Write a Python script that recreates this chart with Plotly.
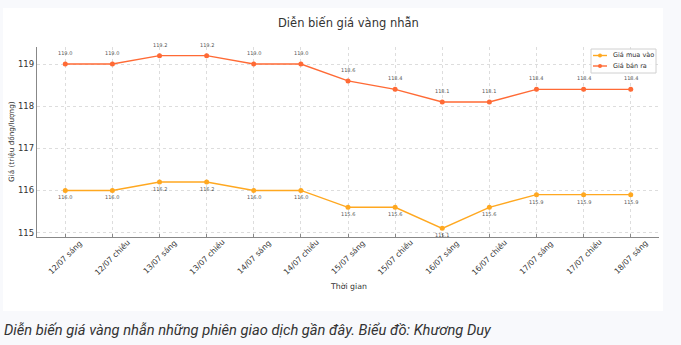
import plotly.graph_objects as go

# Trading sessions and ring-gold prices (million VND per tael)
sessions = ["12/07 sáng", "12/07 chiều", "13/07 sáng", "13/07 chiều",
            "14/07 sáng", "14/07 chiều", "15/07 sáng", "15/07 chiều",
            "16/07 sáng", "16/07 chiều", "17/07 sáng", "17/07 chiều",
            "18/07 sáng"]
buy_prices = [116.0, 116.0, 116.2, 116.2, 116.0, 116.0, 115.6, 115.6,
              115.1, 115.6, 115.9, 115.9, 115.9]
sell_prices = [119.0, 119.0, 119.2, 119.2, 119.0, 119.0, 118.6, 118.4,
               118.1, 118.1, 118.4, 118.4, 118.4]
y_ticks = [115, 116, 117, 118, 119]
series_names = ["Giá mua vào", "Giá bán ra"]

W, H = 681, 345
BUY_COLOR = "#FFA820"
SELL_COLOR = "#FF6A35"
PAGE_BG = "#F8F9FC"
TEXT = "#333333"
FONT = "DejaVu Sans"

# Plot-area placement in pixels
ax_left, ax_right, ax_top, ax_bottom = 37, 659, 47, 237


def px_x(v):
    return v / W


def px_y(v):
    return 1 - v / H


xi = list(range(len(sessions)))

fig = go.Figure()
for name, vals, color in [(series_names[0], buy_prices, BUY_COLOR),
                          (series_names[1], sell_prices, SELL_COLOR)]:
    fig.add_trace(go.Scatter(
        x=xi, y=vals, name=name, mode="lines+markers",
        line=dict(color=color, width=1.4),
        marker=dict(color=color, size=5),
        showlegend=False,
    ))

annotations = []
# value labels: above the selling line, below the buying line
for i, v in enumerate(sell_prices):
    annotations.append(dict(x=i, y=v, xref="x", yref="y", text=f"{v:.1f}",
                            showarrow=False, yshift=11,
                            font=dict(size=5, color="#555555", family=FONT)))
for i, v in enumerate(buy_prices):
    annotations.append(dict(x=i, y=v, xref="x", yref="y", text=f"{v:.1f}",
                            showarrow=False, yshift=-7,
                            font=dict(size=5, color="#555555", family=FONT)))

# rotated session labels centred under each tick
for i, s in enumerate(sessions):
    annotations.append(dict(x=i, y=px_y(257), xref="x", yref="paper", text=s,
                            showarrow=False, textangle=-45,
                            xanchor="center", yanchor="middle",
                            font=dict(size=7.8, color=TEXT, family=FONT)))

# chart title, axis titles and caption
annotations += [
    dict(text="Diễn biến giá vàng nhẫn", x=px_x(348), y=px_y(23), xref="paper", yref="paper",
         showarrow=False, xanchor="center", yanchor="middle",
         font=dict(size=11.5, color=TEXT, family=FONT)),
    dict(text="Thời gian", x=px_x(348), y=px_y(286), xref="paper", yref="paper",
         showarrow=False, xanchor="center", yanchor="middle",
         font=dict(size=7.8, color=TEXT, family=FONT)),
    dict(text="Giá (triệu đồng/lượng)", x=px_x(12), y=px_y(142), xref="paper", yref="paper",
         showarrow=False, xanchor="center", yanchor="middle", textangle=-90,
         font=dict(size=7.3, color=TEXT, family=FONT)),
    dict(text="<i>Diễn biến giá vàng nhẫn những phiên giao dịch gần đây. Biểu đồ: Khương Duy</i>",
         x=px_x(2), y=px_y(330), xref="paper", yref="paper",
         showarrow=False, xanchor="left", yanchor="middle",
         font=dict(size=14.7, color=TEXT, family="Roboto")),
]

shapes = [
    # white card behind the chart
    dict(type="rect", xref="paper", yref="paper", layer="below",
         x0=px_x(3), x1=px_x(663), y0=px_y(311), y1=px_y(8),
         fillcolor="white", line=dict(width=0)),
    # legend frame
    dict(type="rect", xref="paper", yref="paper",
         x0=px_x(591), x1=px_x(656), y0=px_y(73), y1=px_y(49),
         fillcolor="rgba(255,255,255,0.85)", line=dict(color="#D0D0D0", width=1)),
]

# legend entries: sample line, marker and label
for row, (name, color) in enumerate(zip(series_names, [BUY_COLOR, SELL_COLOR])):
    yc = 55.5 + row * 10.5
    shapes.append(dict(type="line", xref="paper", yref="paper",
                       x0=px_x(593), x1=px_x(607), y0=px_y(yc), y1=px_y(yc),
                       line=dict(color=color, width=1.4)))
    shapes.append(dict(type="circle", xref="paper", yref="paper",
                       x0=px_x(598), x1=px_x(602), y0=px_y(yc + 2), y1=px_y(yc - 2),
                       fillcolor=color, line=dict(width=0)))
    annotations.append(dict(text=name, x=px_x(611), y=px_y(yc), xref="paper", yref="paper",
                            showarrow=False, xanchor="left", yanchor="middle",
                            font=dict(size=6.5, color=TEXT, family=FONT)))

fig.update_layout(
    width=W, height=H,
    margin=dict(l=0, r=0, t=0, b=0, pad=0),
    paper_bgcolor=PAGE_BG, plot_bgcolor="white",
    showlegend=False,
    annotations=annotations,
    shapes=shapes,
    xaxis=dict(
        domain=[px_x(ax_left), px_x(ax_right)],
        range=[-0.6, len(sessions) - 1 + 0.6],
        tickmode="array", tickvals=xi, showticklabels=False,
        showgrid=True, gridcolor="#DDDDDD", griddash="dot", gridwidth=0.8,
        showline=True, linecolor="#888888", linewidth=1.2,
        ticks="inside", ticklen=3, tickcolor="#888888",
        zeroline=False, fixedrange=True, automargin=False,
    ),
    yaxis=dict(
        domain=[px_y(ax_bottom), px_y(ax_top)],
        range=[114.895, 119.405],
        tickmode="array", tickvals=y_ticks, ticktext=[str(t) for t in y_ticks],
        tickfont=dict(size=8.5, color=TEXT, family=FONT),
        showgrid=True, gridcolor="#DDDDDD", griddash="dot", gridwidth=0.8,
        showline=True, linecolor="#888888", linewidth=1.2,
        ticks="", zeroline=False, fixedrange=True, automargin=False,
    ),
)

fig.write_html("out.html")
